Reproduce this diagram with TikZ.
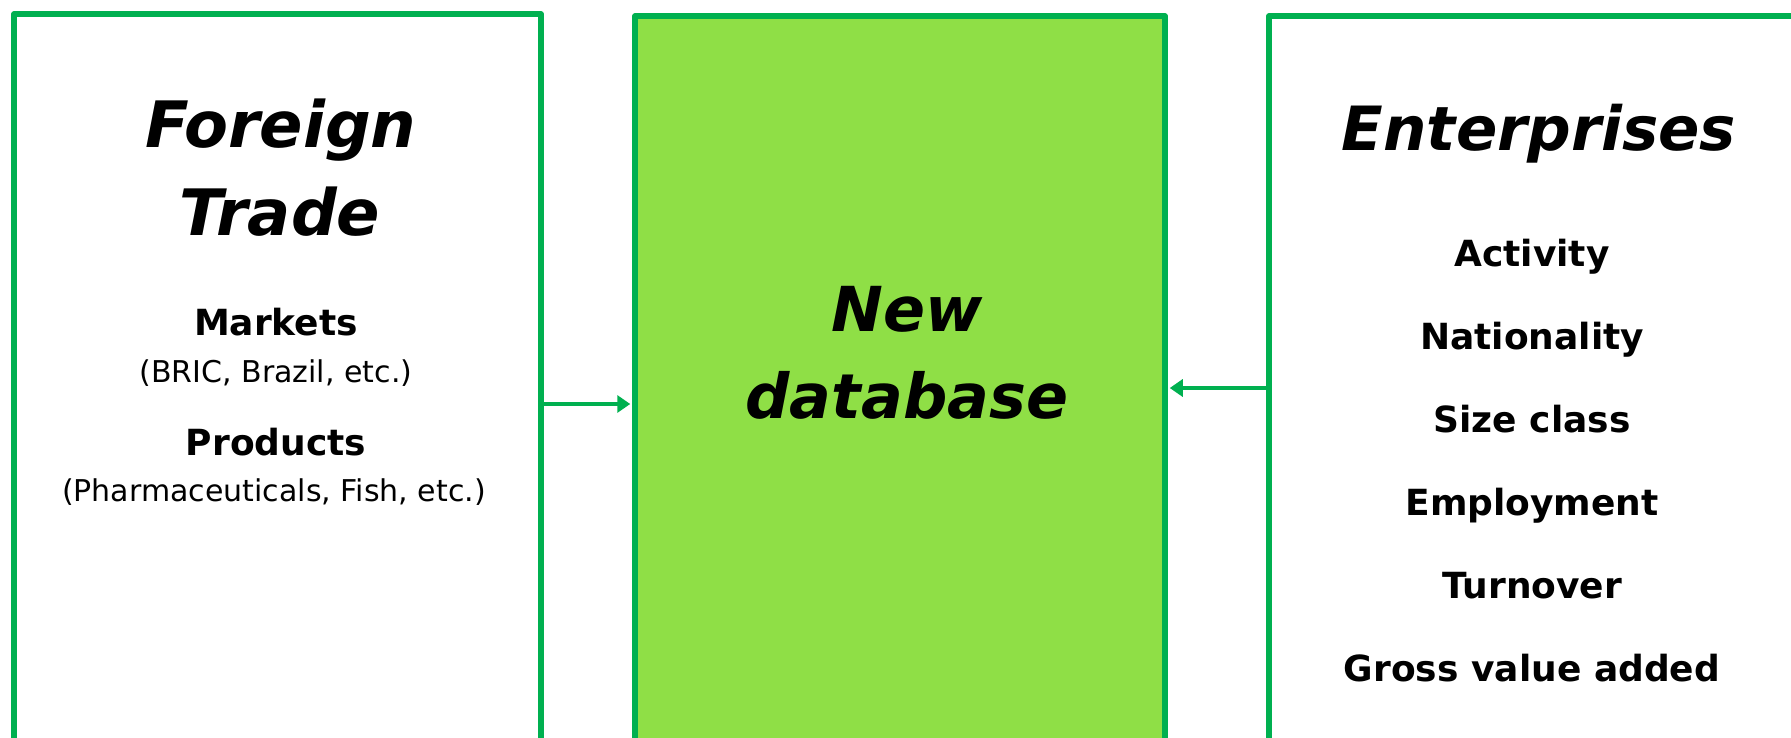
\documentclass[tikz,border=0pt]{standalone}
\usepackage{fontspec}
\setmainfont{DejaVu Sans}
\usetikzlibrary{arrows.meta,positioning}

\definecolor{boxgreen}{RGB}{0,176,80}
\definecolor{dbfill}{RGB}{143,223,70}

\tikzset{
  panel/.style={draw=boxgreen, line width=5.5pt, line join=round, inner sep=0pt},
  link/.style={draw=boxgreen, line width=4pt, shorten >=2pt,
    -{Triangle[length=13pt,width=17pt]}},
  heading/.style={anchor=base, inner sep=0pt,
    font=\fontsize{64}{64}\selectfont\bfseries\itshape},
  attr/.style={anchor=base, inner sep=0pt,
    font=\fontsize{36}{36}\selectfont\bfseries},
  note/.style={anchor=base, inner sep=0pt, font=\fontsize{30}{30}\selectfont},
}

\begin{document}
\begin{tikzpicture}[x=1pt, y=-1pt]
  \useasboundingbox (0,0) rectangle (1791,737);

  % The three boxes, running off the bottom edge
  \node[panel, minimum width=527pt, minimum height=780pt] (trade) at (277.5,404) {};
  \node[panel, fill=dbfill, minimum width=530pt, minimum height=744pt] (newdb) at (900,388) {};
  \node[panel, minimum width=529pt, minimum height=744pt] (firms) at (1533.5,388) {};

  % Arrows into the new database
  \draw[link] (trade.east) -- (trade.east -| newdb.west);
  \draw[link] (firms.west) -- (firms.west -| newdb.east);

  % Left box text
  \node[heading] (foreign) at (281,147) {Foreign};
  \node[heading] (tradetxt) at (280,235) {Trade};
  \node[attr] (markets) at (276,335) {Markets};
  \node[note] (bric) at (276,382) {(BRIC, Brazil, etc.)};
  \node[attr] (products) at (276,455) {Products};
  \node[note] (pharma) at (274,501) {(Pharmaceuticals, Fish, etc.)};

  % Centre box text
  \node[heading, font=\fontsize{62}{62}\selectfont\bfseries\itshape] (newtxt) at (907,331) {New};
  \node[heading, font=\fontsize{62}{62}\selectfont\bfseries\itshape] (dbtxt) at (907,418) {database};

  % Right box text
  \node[heading, font=\fontsize{61}{61}\selectfont\bfseries\itshape] (ent) at (1539,150) {Enterprises};
  \node[attr] (activity) at (1532,266) {Activity};
  \node[attr] (nation) at (1532,349) {Nationality};
  \node[attr] (sizecl) at (1532,432) {Size class};
  \node[attr] (employ) at (1532,515) {Employment};
  \node[attr] (turnover) at (1532,598) {Turnover};
  \node[attr] (gva) at (1532,681) {Gross value added};

\end{tikzpicture}
\end{document}
